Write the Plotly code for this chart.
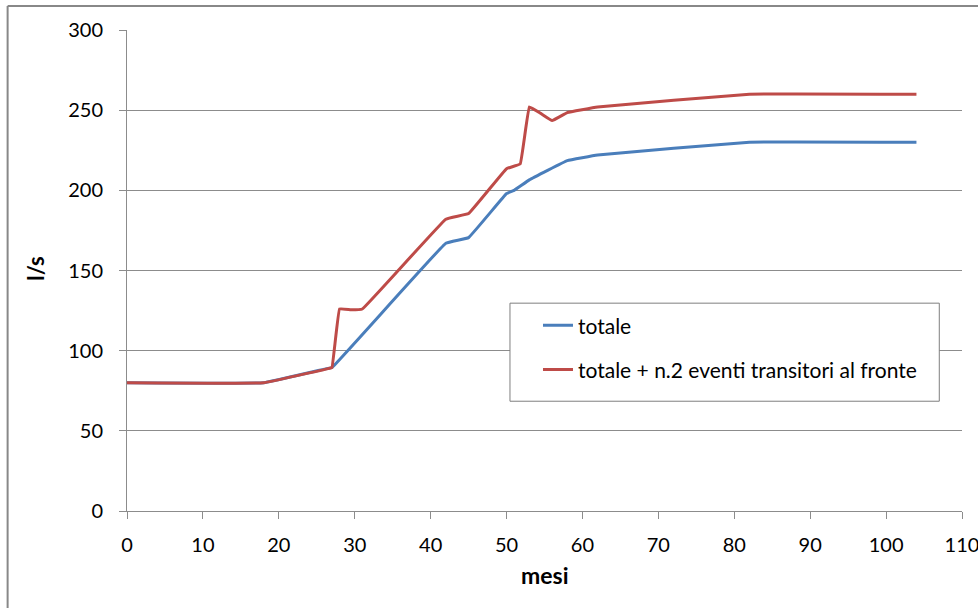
import plotly.graph_objects as go

# Data
months_tot = [0, 18, 26, 27, 42, 45, 50, 51, 53, 58, 62, 82, 104]
flow_tot = [80, 80, 88.5, 89.5, 167, 170.5, 198, 200, 206.5, 218.5, 222, 230, 230]

months_ev = [0, 18, 26.5, 27, 28, 29.5, 31, 42, 45, 50, 51.8, 53, 54.5, 56, 58, 62, 82, 104]
flow_ev = [80, 80, 88.8, 89.5, 126, 125.5, 126, 182, 185.5, 213.5, 216.5, 252, 248, 243.5, 248.5, 252, 260, 260]

name_tot = "totale"
name_ev = "totale + n.2 eventi transitori al fronte"
x_ticks = list(range(0, 111, 10))
y_ticks = list(range(0, 301, 50))

FONT = "Lato"
W, H = 978, 608
L, R, T, B = 127.3, 16.3, 30, 97.3
pw, ph = W - L - R, H - T - B

def px(xp):
    return (xp - L) / pw

def py(yp):
    return (H - B - yp) / ph

fig = go.Figure()
fig.add_trace(go.Scatter(x=months_tot, y=flow_tot, mode="lines", name=name_tot,
                         line=dict(color="#4A7EBB", width=3, shape="spline", smoothing=0.2),
                         legendgroup="a"))
fig.add_trace(go.Scatter(x=months_ev, y=flow_ev, mode="lines", name=name_ev,
                         line=dict(color="#BE4B48", width=3, shape="spline", smoothing=0.2),
                         legendgroup="b"))

grid = "#8C8C8C"
fig.update_layout(
    width=W, height=H, autosize=False,
    margin=dict(l=L, r=R, t=T, b=B, pad=0),
    paper_bgcolor="white", plot_bgcolor="white",
    font=dict(family=FONT, size=20, color="black"),
    showlegend=True,
    legend=dict(x=px(538), y=py(305), xanchor="left", yanchor="top",
                bgcolor="rgba(0,0,0,0)", borderwidth=0,
                font=dict(family=FONT, size=21), tracegroupgap=14,
                traceorder="grouped"),
    xaxis=dict(range=[0, 110], tickvals=x_ticks, showgrid=False, zeroline=False,
               showline=True, linecolor=grid, linewidth=1, ticks="outside",
               ticklen=7, tickcolor=grid, ticklabelstandoff=9,
               ticklabeloverflow="allow",
               automargin=False, tickfont=dict(family=FONT, size=20)),
    yaxis=dict(range=[0, 300], tickvals=y_ticks, showgrid=True, gridcolor=grid,
               gridwidth=1, zeroline=False, showline=True, linecolor=grid,
               linewidth=1, ticks="outside", ticklen=7, tickcolor=grid,
               ticklabelstandoff=12, automargin=False,
               tickfont=dict(family=FONT, size=20)),
    shapes=[
        dict(type="rect", xref="paper", yref="paper", x0=px(510), x1=px(939),
             y0=py(401), y1=py(303), line=dict(color="#7F7F7F", width=1),
             fillcolor="white", layer="above"),
        dict(type="line", xref="paper", yref="paper", x0=px(8), x1=px(978),
             y0=py(6), y1=py(6), line=dict(color="#888888", width=2)),
        dict(type="line", xref="paper", yref="paper", x0=px(8), x1=px(8),
             y0=py(6), y1=py(608), line=dict(color="#888888", width=2)),
    ],
    annotations=[
        dict(text="<b>l/s</b>", xref="paper", yref="paper", x=px(36), y=py(268),
             showarrow=False, textangle=-90, font=dict(family=FONT, size=22),
             xanchor="center", yanchor="middle"),
        dict(text="<b>mesi</b>", xref="paper", yref="paper", x=px(545), y=py(575),
             showarrow=False, font=dict(family=FONT, size=23),
             xanchor="center", yanchor="middle"),
    ],
)

fig.write_html("out.html", config={"responsive": False})
